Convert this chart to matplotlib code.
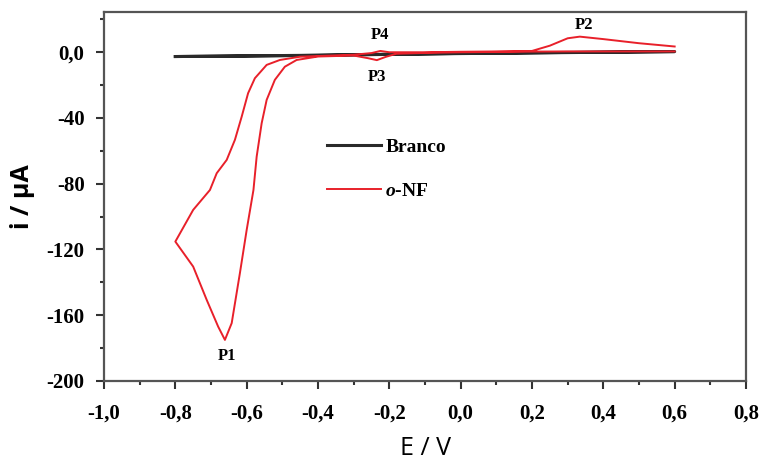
import matplotlib
matplotlib.use('Agg')
import matplotlib.pyplot as plt
from matplotlib.ticker import MultipleLocator

# Voltamogramas cíclicos: branco e o-NF
# Branco (ida e volta)
E_branco = [-0.80, -0.60, -0.40, -0.20, 0.00, 0.20, 0.40, 0.60,
            0.40, 0.20, 0.00, -0.20, -0.40, -0.60, -0.80]
i_branco = [-2.6, -2.3, -1.9, -1.3, -0.8, -0.4, 0.0, 0.4,
            0.1, -0.3, -0.7, -1.2, -1.8, -2.2, -2.6]

# o-NF: varredura catódica (0,6 -> -0,8)
E_cat = [0.60, 0.50, 0.40, 0.30, 0.20, 0.10, 0.00, -0.10, -0.18, -0.21,
         -0.235, -0.26, -0.30, -0.40, -0.46, -0.493, -0.521, -0.544, -0.558,
         -0.572, -0.581, -0.60, -0.619, -0.642, -0.661, -0.68, -0.712, -0.75, -0.80]
i_cat = [0.5, 0.5, 0.5, 0.5, 0.4, 0.2, 0.0, -0.4, -0.9, -2.8,
         -4.8, -3.6, -2.0, -2.6, -4.7, -8.8, -16.8, -29.0, -43.2,
         -63.5, -83.8, -108.1, -134.4, -164.8, -175.0, -166.9, -150.7, -130.4, -115.2]

# o-NF: varredura anódica (-0,8 -> 0,6)
E_an = [-0.80, -0.75, -0.703, -0.684, -0.656, -0.633, -0.614, -0.596, -0.577,
        -0.544, -0.507, -0.45, -0.40, -0.30, -0.25, -0.225, -0.20, -0.10,
        0.00, 0.10, 0.20, 0.25, 0.30, 0.334, 0.40, 0.50, 0.60]
i_an = [-115.2, -95.9, -83.8, -73.6, -65.5, -53.3, -39.2, -24.9, -15.8,
        -7.7, -4.7, -2.7, -2.3, -1.5, -0.5, 0.8, 0.0, 0.0,
        0.3, 0.5, 0.8, 4.0, 8.5, 9.5, 8.0, 5.5, 3.5]

picos = ['P1', 'P2', 'P3', 'P4']
picos_E = [-0.655, 0.345, -0.235, -0.225]
picos_i = [-185, 16.5, -15, 10.5]

xticks = [-1.0, -0.8, -0.6, -0.4, -0.2, 0.0, 0.2, 0.4, 0.6, 0.8]
xlabels = ['-1,0', '-0,8', '-0,6', '-0,4', '-0,2', '0,0', '0,2', '0,4', '0,6', '0,8']
yticks = [-200, -160, -120, -80, -40, 0]
ylabels = ['-200', '-160', '-120', '-80', '-40', '0,0']

plt.rcParams['mathtext.fontset'] = 'custom'
plt.rcParams['mathtext.it'] = 'Liberation Serif:italic:bold'
plt.rcParams['mathtext.rm'] = 'Liberation Serif:bold'

fig = plt.figure(figsize=(7.62, 4.70), dpi=100)
ax = fig.add_axes([0.1365, 0.1894, 0.8425, 0.7851])

ax.plot(E_branco, i_branco, color='#2a2a2a', linewidth=2.2, label='Branco')
ax.plot(E_cat + E_an, i_cat + i_an, color='#e8202a', linewidth=1.4, label='$\\mathit{o}$-NF')

for nome, e, i in zip(picos, picos_E, picos_i):
    ax.text(e, i, nome, ha='center', va='center', fontsize=12,
            fontweight='bold', family='Liberation Serif')

ax.set_xlim(-1.0, 0.8)
ax.set_ylim(-200, 24.5)
ax.set_xticks(xticks)
ax.set_xticklabels(xlabels)
ax.set_yticks(yticks)
ax.set_yticklabels(ylabels)
ax.xaxis.set_minor_locator(MultipleLocator(0.1))
ax.yaxis.set_minor_locator(MultipleLocator(20))
ax.tick_params(which='both', direction='out', width=1.5, colors='#333333',
               top=False, right=False)
ax.tick_params(which='major', length=6, pad=8)
ax.tick_params(axis='x', which='major', pad=10)
ax.tick_params(which='minor', length=3)
for lab in ax.get_xticklabels() + ax.get_yticklabels():
    lab.set_family('Liberation Serif')
    lab.set_fontweight('bold')
    lab.set_fontsize(15)
    lab.set_color('black')
for s in ax.spines.values():
    s.set_linewidth(1.6)
    s.set_color('#555555')

ax.set_xlabel('E / V', fontsize=18, family='Open Sans', labelpad=9)
ax.set_ylabel('i / μA', fontsize=18, family='Open Sans', fontweight='bold', labelpad=8)

leg = ax.legend(loc='upper left', bbox_to_anchor=(0.32, 0.705), frameon=False,
                handlelength=2.8, handletextpad=0.2, labelspacing=1.35,
                prop={'family': 'Liberation Serif', 'weight': 'bold', 'size': 14})

fig.savefig('out.png', dpi=100)
